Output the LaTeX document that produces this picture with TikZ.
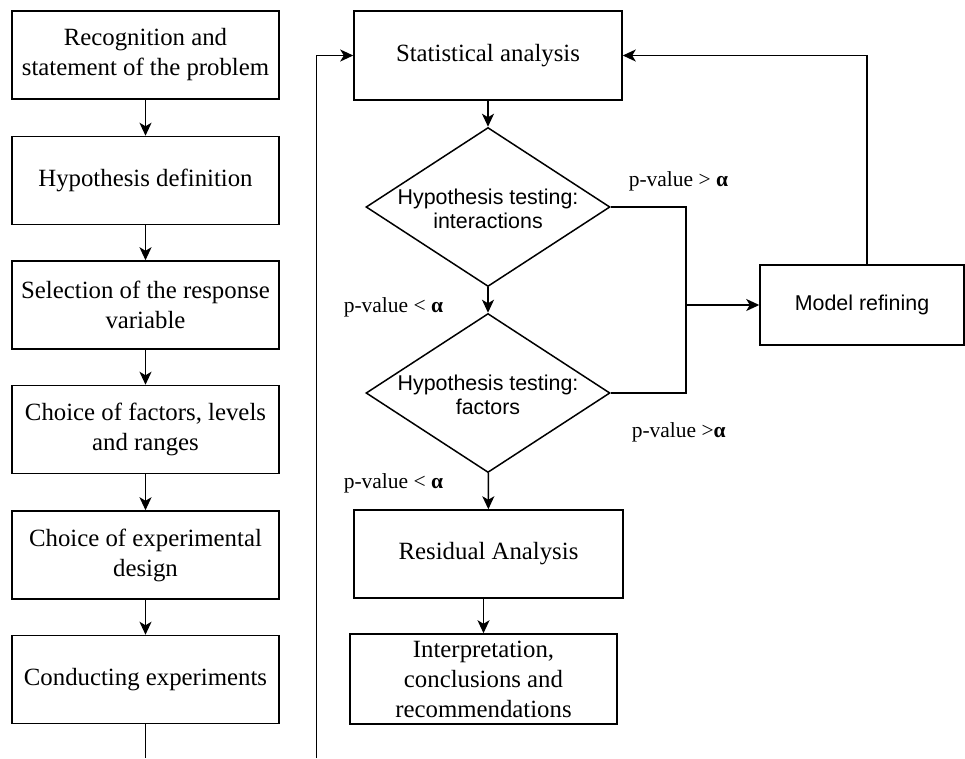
\documentclass[tikz,border=0pt]{standalone}
\usepackage{fontspec}
\setmainfont{Liberation Serif}
\newfontfamily\arialf{Liberation Sans}
\usetikzlibrary{arrows.meta,shapes.geometric,calc}
\begin{document}
\begin{tikzpicture}[x=1pt,y=-1pt, line width=1.5pt,
  stepbox/.style={draw, minimum width=267pt, minimum height=88pt, inner sep=0pt, align=center, font=\fontsize{24.8}{30}\selectfont},
  decshape/.style={draw, diamond, minimum width=244pt, minimum height=159pt, inner sep=0pt},
  dectext/.style={align=center, inner sep=0pt, font=\arialf\fontsize{21.4}{24.5}\selectfont},
  sansbox/.style={draw, minimum width=204pt, minimum height=80pt, inner sep=0pt, align=center, font=\arialf\fontsize{21.4}{25}\selectfont},
  lbl/.style={inner sep=0pt, font=\fontsize{21.5}{24}\selectfont},
  arr/.style={-{Stealth[length=13pt,width=12pt,inset=3.5pt]}}]
\useasboundingbox (0,0) rectangle (965,758);
% left column
\node[stepbox] (b1) at (145.5,55) {Recognition and\\statement of the problem};
\node[stepbox] (b2) at (145.5,180.5) {Hypothesis definition};
\node[stepbox] (b3) at (145.5,305) {Selection of the response\\variable};
\node[stepbox] (b4) at (145.5,429.5) {Choice of factors, levels\\and ranges};
\node[stepbox] (b5) at (145.5,555) {Choice of experimental\\design};
\node[stepbox] (b6) at (145.5,679.5) {Conducting experiments};
\coordinate (e1) at (145.5,758);
\coordinate (e2) at (316.5,758);
% middle column
\node[stepbox, minimum width=268pt, minimum height=89pt] (stat) at (488,55.5) {Statistical analysis};
\node[decshape] (d1) at (488,207) {};
\node[dectext] (t1) at (488,209) {Hypothesis testing:\\interactions};
\node[decshape] (d2) at (488,393) {};
\node[dectext] (t2) at (488,395) {Hypothesis testing:\\factors};
\node[stepbox, minimum width=269pt] (res) at (488.5,554) {Residual Analysis};
\node[stepbox, minimum height=90pt] (int) at (483.5,679) {Interpretation,\\conclusions and\\recommendations};
\node[sansbox] (model) at (862,305) {Model refining};
\coordinate (j1) at (686,207);
\coordinate (j2) at (686,393);
\coordinate (j) at (686,305);
\coordinate (mtop) at (867,265);
% labels
\node[lbl, anchor=west] (l1) at (628,181) {p-value > \textbf{α}};
\node[lbl, anchor=west] (l2) at (343,307) {p-value < \textbf{α}};
\node[lbl, anchor=west] (l3) at (631,432) {p-value >\textbf{α}};
\node[lbl, anchor=west] (l4) at (343,483) {p-value < \textbf{α}};
% connectors
\draw[arr] (b1) -- (b2);
\draw[arr] (b2) -- (b3);
\draw[arr] (b3) -- (b4);
\draw[arr] (b4) -- (b5);
\draw[arr] (b5) -- (b6);
\draw (b6) -- (e1);
\draw[arr] (e2) |- (stat.west);
\draw[arr] (stat) -- (d1);
\draw[arr] (d1) -- (d2);
\draw[arr] (d2) -- (res);
\draw[arr] (res.south -| int.north) -- (int.north);
\draw (d1.east) -- (j1) -- (j2) -- (d2.east);
\draw[arr] (j) -- (model.west);
\draw[arr] (mtop) |- (stat.east);
\end{tikzpicture}
\end{document}
